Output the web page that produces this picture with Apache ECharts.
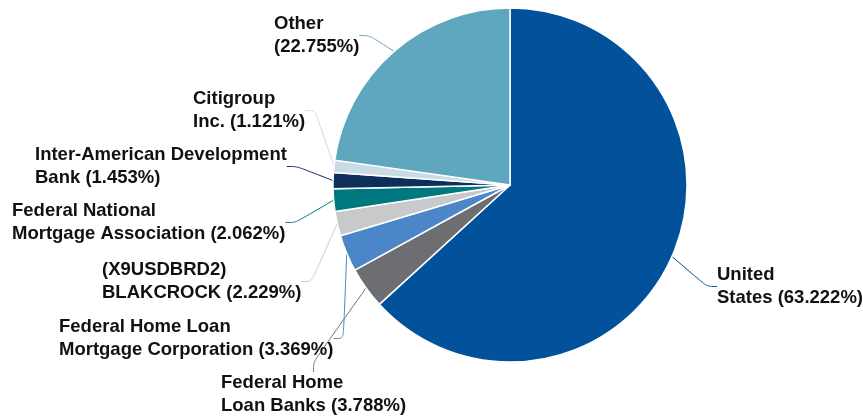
<!DOCTYPE html>
<html>
<head>
<meta charset="utf-8">
<title>Holdings</title>
<script src="https://cdn.jsdelivr.net/npm/echarts@6/dist/echarts.min.js"></script>
<style>
  html, body { margin: 0; padding: 0; background: #fff; }
  #main { width: 863px; height: 419px; }
</style>
</head>
<body>
<div id="main"></div>
<script>
  // issuer names, with the line break used in the label
  var names = [
    'United\nStates',
    'Federal Home\nLoan Banks',
    'Federal Home Loan\nMortgage Corporation',
    '(X9USDBRD2)\nBLAKCROCK',
    'Federal National\nMortgage Association',
    'Inter-American Development\nBank',
    'Citigroup\nInc.',
    'Other\n'
  ];
  var weights = [63.222, 3.788, 3.369, 2.229, 2.062, 1.453, 1.121, 22.755];
  var colors = ['#01519b', '#6d6e71', '#4b87c8', '#c8c9cb', '#00787f', '#0e2f5a', '#c9dbe7', '#5fa7bf'];

  // where each label sits (top-left corner)
  var labelPos = [
    [717, 264], [221, 372], [59, 316], [102, 259],
    [12, 200], [35, 144], [193, 88], [274, 13]
  ];

  var pieData = [];
  for (var i = 0; i < names.length; i++) {
    pieData.push({
      name: names[i],
      value: weights[i],
      itemStyle: { color: colors[i] },
      labelLine: { lineStyle: { color: colors[i] } }
    });
  }

  var chart = echarts.init(document.getElementById('main'));
  chart.setOption({
    animation: false,
    series: [{
      type: 'pie',
      center: [510, 185],
      radius: 177,
      startAngle: 90,
      clockwise: true,
      itemStyle: { borderColor: '#fff', borderWidth: 1.5 },
      label: {
        show: true,
        color: '#111',
        fontFamily: "'Liberation Sans', Arial, sans-serif",
        fontWeight: 'bold',
        fontSize: 18.5,
        lineHeight: 22.5,
        formatter: function (p) {
          var n = p.name;
          if (n.slice(-1) === '\n') return n + '(' + p.value.toFixed(3) + '%)';
          return n + ' (' + p.value.toFixed(3) + '%)';
        }
      },
      labelLine: { show: true, length: 15, length2: 10, smooth: 0.3, lineStyle: { width: 1 } },
      labelLayout: function (p) {
        var pos = labelPos[p.dataIndex];
        return { x: pos[0], y: pos[1], align: 'left', verticalAlign: 'top' };
      },
      data: pieData
    }]
  });
</script>
</body>
</html>
